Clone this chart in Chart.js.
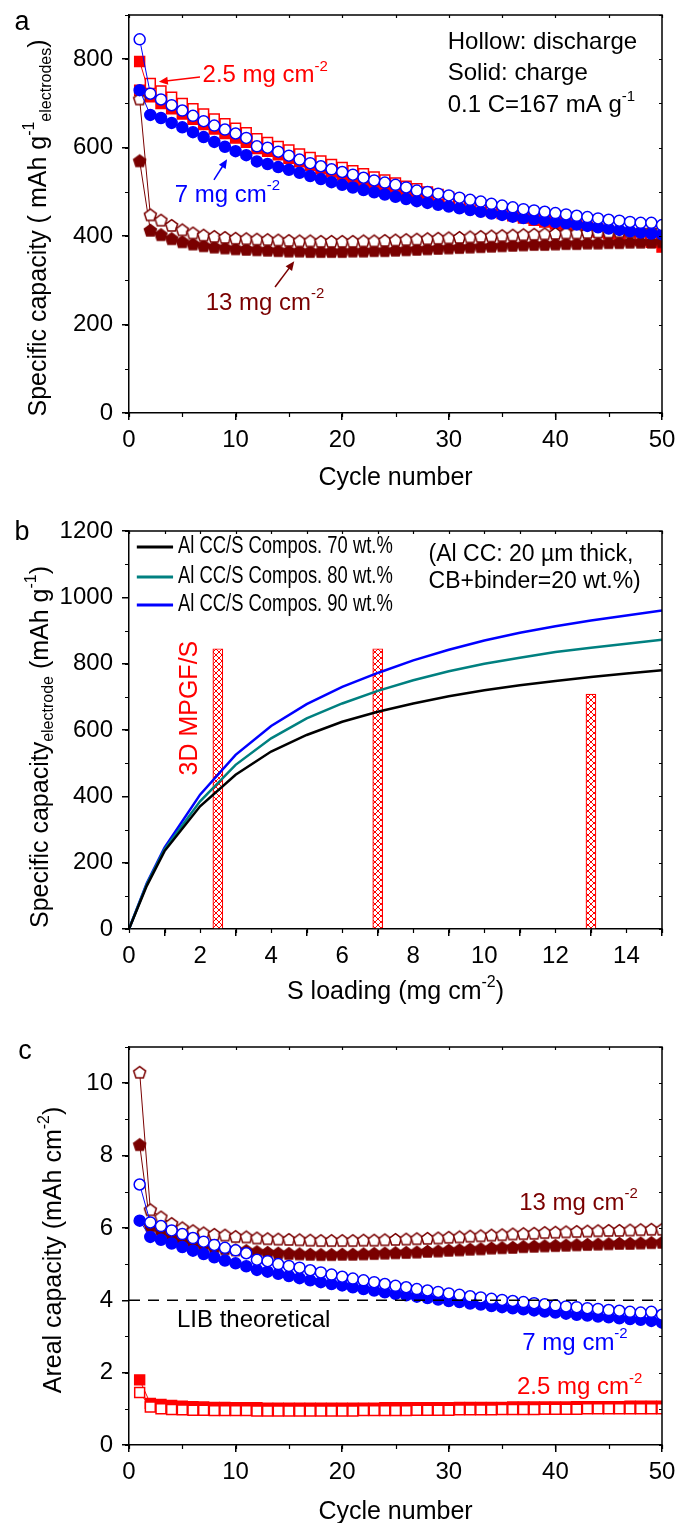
<!DOCTYPE html>
<html>
<head>
<meta charset="utf-8">
<script src="https://cdn.jsdelivr.net/npm/chart.js@4.4.1/dist/chart.umd.min.js"></script>
<style>
  body { margin: 0; background: #fff; }
  #wrap { position: relative; width: 676px; height: 1523px; }
  canvas { position: absolute; left: 0; }
</style>
</head>
<body>
<div id="wrap">
  <canvas id="chartA" width="676" height="505" style="top:0"></canvas>
  <canvas id="chartB" width="676" height="510" style="top:505px"></canvas>
  <canvas id="chartC" width="676" height="508" style="top:1015px"></canvas>
</div>
<script>
// ---- data ----
const cycles = [1,2,3,4,5,6,7,8,9,10,11,12,13,14,15,16,17,18,19,20,21,22,23,24,25,
  26,27,28,29,30,31,32,33,34,35,36,37,38,39,40,41,42,43,44,45,46,47,48,49,50];

// panel a: specific capacity (mAh g-1 electrodes)
const blueDisA = [845,722,709,696,684,672,660,650,641,632,622,603,600,591,582,573,565,558,551,545,
  539,532,526,521,516,510,503,500,496,492,487,482,478,473,469,465,461,458,455,452,
  449,446,443,440,437,435,432,430,430,425];
const blueChA = [730,674,667,656,646,635,624,613,602,592,583,569,563,556,550,543,536,529,522,516,
  510,504,499,494,489,484,479,475,471,467,463,459,455,451,448,444,441,438,435,432,
  429,426,423,420,417,414,411,408,406,404];
const redDisA = [730,745,728,714,700,688,676,665,654,644,634,620,612,603,595,586,578,570,562,555,
  548,541,534,527,520,513,507,500,494,488,482,476,470,465,460,454,449,444,439,434,
  429,425,420,416,411,407,402,398,394,388];
const redChA = [795,715,700,688,676,664,652,642,632,622,612,598,592,584,576,568,560,552,545,538,
  531,524,517,511,505,499,493,487,482,476,471,466,461,456,451,446,441,436,432,427,
  422,418,413,409,405,400,396,391,386,375];
const darkDisA = [710,448,436,424,414,407,402,399,397,395,394,393,392,391,390,389,389,388,388,388,
  388,389,389,390,391,392,393,394,395,396,397,398,399,400,401,402,403,404,405,406,
  407,407,408,409,409,410,410,411,411,412];
const darkChA = [570,413,403,394,387,382,378,375,373,371,370,369,368,367,366,366,365,365,365,365,
  366,366,367,367,368,369,370,371,372,373,374,375,376,377,378,379,380,381,381,382,
  383,383,384,384,385,385,386,386,386,387];

// panel b: model curves vs S loading
const loading = [0,0.5,1,2,3,4,5,6,7,8,9,10,11,12,13,14,15];
const cap70 = [0,130,235,370,465,535,585,625,655,680,702,720,735,748,760,770,780];
const cap80 = [0,135,240,385,495,575,635,680,718,750,777,800,818,835,848,860,872];
const cap90 = [0,138,245,405,525,612,678,730,772,810,842,870,893,913,930,945,960];
const mpgfLoading = [2.5,7,13];
const mpgfCap = [845,845,708];

// panel c: areal capacity (mAh cm-2)
const blueDisC = [7.2,6.15,6.05,5.93,5.83,5.72,5.62,5.53,5.45,5.38,5.3,5.12,5.08,5.0,4.95,4.9,4.83,4.77,4.71,4.65,
  4.6,4.55,4.5,4.45,4.4,4.36,4.31,4.27,4.23,4.19,4.15,4.11,4.08,4.04,4.01,3.98,3.95,3.92,3.89,3.86,
  3.83,3.81,3.78,3.76,3.73,3.71,3.68,3.66,3.68,3.6];
const blueChC = [6.2,5.75,5.67,5.57,5.47,5.37,5.28,5.19,5.1,5.02,4.94,4.84,4.79,4.73,4.67,4.61,4.55,4.5,4.45,4.41,
  4.36,4.31,4.27,4.22,4.18,4.14,4.1,4.06,4.02,3.98,3.95,3.91,3.88,3.84,3.81,3.78,3.75,3.72,3.69,3.66,
  3.63,3.6,3.58,3.55,3.53,3.5,3.48,3.46,3.43,3.38];
const darkDisC = [10.3,6.5,6.3,6.12,6.0,5.92,5.86,5.82,5.8,5.76,5.75,5.72,5.7,5.69,5.68,5.67,5.66,5.65,5.65,5.65,
  5.65,5.66,5.66,5.67,5.68,5.69,5.7,5.71,5.72,5.74,5.75,5.77,5.78,5.8,5.81,5.83,5.84,5.85,5.87,5.88,
  5.89,5.9,5.91,5.92,5.93,5.93,5.94,5.95,5.96,5.96];
const darkChC = [8.3,6.05,5.9,5.76,5.65,5.57,5.51,5.46,5.42,5.39,5.37,5.34,5.32,5.3,5.29,5.28,5.27,5.26,5.26,5.27,
  5.27,5.28,5.29,5.3,5.31,5.32,5.33,5.35,5.36,5.38,5.39,5.41,5.42,5.44,5.45,5.46,5.48,5.49,5.5,5.51,
  5.52,5.53,5.54,5.55,5.56,5.57,5.57,5.58,5.59,5.6];
const redDisC = [1.45,1.05,1.0,0.98,0.97,0.96,0.96,0.95,0.95,0.95,0.95,0.94,0.94,0.94,0.94,0.94,0.94,0.94,0.94,0.94,
  0.94,0.95,0.95,0.95,0.95,0.95,0.96,0.96,0.96,0.96,0.97,0.97,0.97,0.97,0.98,0.98,0.98,0.98,0.99,0.99,
  0.99,0.99,1.0,1.0,1.0,1.0,1.0,1.0,1.0,1.0];
const redChC = [1.8,1.15,1.12,1.09,1.07,1.06,1.05,1.04,1.04,1.03,1.03,1.03,1.02,1.02,1.02,1.02,1.02,1.02,1.02,1.02,
  1.02,1.02,1.02,1.03,1.03,1.03,1.03,1.03,1.03,1.03,1.04,1.04,1.04,1.04,1.04,1.05,1.05,1.05,1.05,1.05,
  1.05,1.06,1.06,1.06,1.06,1.06,1.07,1.07,1.07,1.07];
const libTheoretical = 4;

// ---- styling helpers ----
const FONT = '"Liberation Sans", Arial, Helvetica, sans-serif';
const RED = '#ff0000', BLUE = '#0000ff', DARK = '#7a0000', TEAL = '#008080';

function pentagon(color, hollow) {
  const c = document.createElement('canvas');
  c.width = 15; c.height = 15;
  const g = c.getContext('2d');
  g.beginPath();
  for (let k = 0; k < 5; k++) {
    const a = -Math.PI / 2 + k * 2 * Math.PI / 5;
    const px = 7.5 + 6.3 * Math.cos(a), py = 8 + 6.3 * Math.sin(a);
    if (k) g.lineTo(px, py); else g.moveTo(px, py);
  }
  g.closePath();
  g.fillStyle = hollow ? '#fff' : color;
  g.fill();
  g.lineWidth = 1.5;
  g.strokeStyle = color;
  g.stroke();
  return c;
}

function hatchPattern() {
  const c = document.createElement('canvas');
  c.width = 6; c.height = 6;
  const g = c.getContext('2d');
  g.fillStyle = '#fff';
  g.fillRect(0, 0, 6, 6);
  g.strokeStyle = RED;
  g.lineWidth = 1;
  g.beginPath();
  g.moveTo(0, 0); g.lineTo(6, 6);
  g.moveTo(6, 0); g.lineTo(0, 6);
  g.stroke();
  return g.createPattern(c, 'repeat');
}

function series(label, xs, ys, color, style, hollow, order) {
  const r = style === 'rect' ? 7 : 5.5;
  return {
    label: label,
    data: ys.map((v, i) => ({ x: xs[i], y: v })),
    borderColor: color,
    borderWidth: 1,
    pointStyle: style,
    pointRadius: r,
    pointHoverRadius: r,
    pointBorderWidth: 1.5,
    pointBackgroundColor: hollow ? '#fff' : color,
    pointBorderColor: color,
    order: order
  };
}

// rich text: parts = [{t, sup}, {t, sub}]
function richText(ctx, parts, x, y, size, color, opts) {
  opts = opts || {};
  const small = Math.round(size * 0.62);
  ctx.save();
  ctx.translate(x, y);
  if (opts.rot) ctx.rotate(opts.rot);
  if (opts.sx) ctx.scale(opts.sx, 1);
  ctx.fillStyle = color;
  ctx.textBaseline = 'middle';
  ctx.textAlign = 'left';
  let w = 0;
  parts.forEach(p => {
    ctx.font = (p.sup || p.sub ? small : size) + 'px ' + FONT;
    p.w = ctx.measureText(p.t).width;
    w += p.w;
  });
  let cx = opts.center ? -w / 2 : 0;
  parts.forEach(p => {
    ctx.font = (p.sup || p.sub ? small : size) + 'px ' + FONT;
    const dy = p.sup ? -size * 0.36 : (p.sub ? size * 0.32 : 0);
    ctx.fillText(p.t, cx, dy);
    cx += p.w;
  });
  ctx.restore();
}

function arrow(ctx, x1, y1, x2, y2, color) {
  const ang = Math.atan2(y2 - y1, x2 - x1);
  const hl = 9, hw = 4;
  ctx.save();
  ctx.strokeStyle = color;
  ctx.fillStyle = color;
  ctx.lineWidth = 1.5;
  ctx.beginPath();
  ctx.moveTo(x1, y1);
  ctx.lineTo(x2 - Math.cos(ang) * hl * 0.8, y2 - Math.sin(ang) * hl * 0.8);
  ctx.stroke();
  ctx.beginPath();
  ctx.moveTo(x2, y2);
  ctx.lineTo(x2 - hl * Math.cos(ang) + hw * Math.sin(ang), y2 - hl * Math.sin(ang) - hw * Math.cos(ang));
  ctx.lineTo(x2 - hl * Math.cos(ang) - hw * Math.sin(ang), y2 - hl * Math.sin(ang) + hw * Math.cos(ang));
  ctx.closePath();
  ctx.fill();
  ctx.restore();
}

// frame, minor ticks, titles, annotations
const decor = {
  id: 'decor',
  afterDatasetsDraw(chart, args, o) {
    const ctx = chart.ctx;
    const a = chart.chartArea;
    const xs = chart.scales.x, ys = chart.scales.y;
    ctx.save();
    ctx.strokeStyle = '#000';
    ctx.lineWidth = 1.5;
    // top + right frame
    ctx.beginPath();
    ctx.moveTo(a.left, a.top); ctx.lineTo(a.right, a.top); ctx.lineTo(a.right, a.bottom);
    ctx.stroke();
    // minor ticks outside, small mirrored ticks inside on top/right
    ctx.lineWidth = 1.2;
    ctx.beginPath();
    for (let v = xs.min; v <= xs.max + 1e-9; v += o.minorX) {
      const px = Math.round(xs.getPixelForValue(v)) + 0.5;
      ctx.moveTo(px, a.bottom); ctx.lineTo(px, a.bottom + 4);
      ctx.moveTo(px, a.top); ctx.lineTo(px, a.top + 3);
    }
    for (let v = ys.min; v <= ys.max + 1e-9; v += o.minorY) {
      const py = Math.round(ys.getPixelForValue(v)) + 0.5;
      ctx.moveTo(a.left, py); ctx.lineTo(a.left - 4, py);
      ctx.moveTo(a.right, py); ctx.lineTo(a.right - 3, py);
    }
    ctx.stroke();
    ctx.restore();

    // panel letter
    ctx.save();
    ctx.font = '27px ' + FONT;
    ctx.fillStyle = '#000';
    ctx.textBaseline = 'middle';
    ctx.textAlign = 'center';
    ctx.fillText(o.letter[0], o.letter[1], o.letter[2]);
    ctx.restore();

    // axis titles
    richText(ctx, o.xTitle, (a.left + a.right) / 2, o.xTitleY, 25, '#000', { center: true });
    richText(ctx, o.yTitle, o.yTitlePos[0], o.yTitlePos[1], 25, '#000', { center: true, rot: -Math.PI / 2 });

    // dashed reference line
    if (o.hline !== undefined) {
      const py = ys.getPixelForValue(o.hline);
      ctx.save();
      ctx.strokeStyle = '#000';
      ctx.lineWidth = 1.5;
      ctx.setLineDash([11, 8]);
      ctx.beginPath();
      ctx.moveTo(a.left, py); ctx.lineTo(a.right, py);
      ctx.stroke();
      ctx.restore();
    }

    (o.texts || []).forEach(t => {
      richText(ctx, t.parts, xs.getPixelForValue(t.x), ys.getPixelForValue(t.y), t.size || 24, t.color,
        { rot: t.rot, center: t.center, sx: t.sx });
    });
    (o.arrows || []).forEach(r => {
      arrow(ctx, xs.getPixelForValue(r.from[0]), ys.getPixelForValue(r.from[1]),
        xs.getPixelForValue(r.to[0]), ys.getPixelForValue(r.to[1]), r.color);
    });

    // hand-drawn legend (panel b)
    if (o.legend) {
      const L = o.legend;
      chart.data.datasets.filter(d => d.type !== 'bar').forEach((d, i) => {
        const py = ys.getPixelForValue(L.y[i]);
        ctx.save();
        ctx.strokeStyle = d.borderColor;
        ctx.lineWidth = 3;
        ctx.beginPath();
        ctx.moveTo(xs.getPixelForValue(L.x0), py);
        ctx.lineTo(xs.getPixelForValue(L.x1), py);
        ctx.stroke();
        ctx.restore();
        richText(ctx, [{ t: d.label }], xs.getPixelForValue(L.tx), py, 23, '#000', { sx: 0.8 });
      });
    }
  }
};
Chart.register(decor);

function axisOpts(min, max, major, fit, isX) {
  return {
    type: 'linear',
    min: min, max: max,
    ticks: {
      stepSize: major,
      color: '#000',
      font: { family: FONT, size: 24 },
      padding: isX ? 6 : 9,
      maxRotation: 0,
      autoSkip: false,
      callback: v => String(v)
    },
    grid: { drawOnChartArea: false, drawTicks: true, tickLength: 7, color: '#000', lineWidth: 1.5 },
    border: { display: true, color: '#000', width: 1.5 },
    title: { display: false },
    afterBuildTicks: s => {
      const t = [];
      for (let v = min; v <= max + 1e-9; v += major) t.push({ value: v });
      s.ticks = t;
    },
    afterFit: s => {
      if (isX) s.height = fit; else s.width = fit;
      s.paddingTop = 0; s.paddingBottom = 0; s.paddingLeft = 0; s.paddingRight = 0;
    }
  };
}

function baseOptions(top, xFit, xr, yr, decorOpts) {
  return {
    responsive: false,
    animation: false,
    devicePixelRatio: 1,
    layout: { padding: { top: top, right: 14, left: 0, bottom: 0 } },
    scales: {
      x: axisOpts(xr[0], xr[1], xr[2], xFit, true),
      y: axisOpts(yr[0], yr[1], yr[2], 129, false)
    },
    plugins: { legend: { display: false }, tooltip: { enabled: false }, decor: decorOpts }
  };
}

const sup = t => ({ t: t, sup: true });
const sub = t => ({ t: t, sub: true });
const txt = t => ({ t: t });

// ---- panel a ----
new Chart(document.getElementById('chartA'), {
  type: 'line',
  data: {
    datasets: [
      series('7 mg discharge', cycles, blueDisA, BLUE, 'circle', true, 1),
      series('7 mg charge', cycles, blueChA, BLUE, 'circle', false, 2),
      series('13 mg discharge', cycles, darkDisA, DARK, pentagon(DARK, true), true, 3),
      series('13 mg charge', cycles, darkChA, DARK, pentagon(DARK, false), false, 4),
      series('2.5 mg discharge', cycles, redDisA, RED, 'rect', true, 5),
      series('2.5 mg charge', cycles, redChA, RED, 'rect', false, 6)
    ]
  },
  options: baseOptions(15, 92, [0, 50, 10], [0, 900, 200], {
    minorX: 5, minorY: 100,
    letter: ['a', 22, 23],
    xTitle: [txt('Cycle number')], xTitleY: 478,
    yTitle: [txt('Specific capacity ( mAh g'), sup('-1'), sub('electrodes'), txt(')')],
    yTitlePos: [39, 228],
    texts: [
      { parts: [txt('Hollow: discharge')], x: 29.9, y: 839, color: '#000' },
      { parts: [txt('Solid: charge')], x: 29.9, y: 769, color: '#000' },
      { parts: [txt('0.1 C=167 mA g'), sup('-1')], x: 29.9, y: 695, color: '#000' },
      { parts: [txt('2.5 mg cm'), sup('-2')], x: 6.9, y: 764, color: RED },
      { parts: [txt('7 mg cm'), sup('-2')], x: 4.3, y: 493, color: BLUE },
      { parts: [txt('13 mg cm'), sup('-2')], x: 7.2, y: 249, color: DARK }
    ],
    arrows: [
      { from: [6.66, 760], to: [2.8, 749], color: RED },
      { from: [7.97, 527], to: [9.2, 574], color: BLUE },
      { from: [13.7, 285], to: [15.5, 343], color: DARK }
    ]
  })
});

// ---- panel b ----
const optsB = baseOptions(26, 86, [0, 15, 2], [0, 1200, 200], {
  minorX: 1, minorY: 100,
  letter: ['b', 22, 28],
  xTitle: [txt('S loading (mg cm'), sup('-2'), txt(')')], xTitleY: 487,
  yTitle: [txt('Specific capacity'), sub('electrode'), txt(' (mAh g'), sup('-1'), txt(')')],
  yTitlePos: [41, 242],
  texts: [
    { parts: [txt('(Al CC: 20 \u00b5m thick,')], x: 8.43, y: 1128, color: '#000', size: 23 },
    { parts: [txt('CB+binder=20 wt.%)')], x: 8.43, y: 1046, color: '#000', size: 23 },
    { parts: [txt('3D MPGF/S')], x: 1.71, y: 666, color: RED, size: 25, rot: -Math.PI / 2, center: true }
  ],
  legend: { x0: 0.22, x1: 1.24, tx: 1.38, y: [1152, 1061, 977] }
});
optsB.scales.x.offset = false;

new Chart(document.getElementById('chartB'), {
  type: 'line',
  data: {
    datasets: [
      { label: 'Al CC/S Compos. 70 wt.%', data: cap70.map((v, i) => ({ x: loading[i], y: v })),
        borderColor: '#000', borderWidth: 2.5, pointRadius: 0, tension: 0, order: 1 },
      { label: 'Al CC/S Compos. 80 wt.%', data: cap80.map((v, i) => ({ x: loading[i], y: v })),
        borderColor: TEAL, borderWidth: 2.5, pointRadius: 0, tension: 0, order: 1 },
      { label: 'Al CC/S Compos. 90 wt.%', data: cap90.map((v, i) => ({ x: loading[i], y: v })),
        borderColor: BLUE, borderWidth: 2.5, pointRadius: 0, tension: 0, order: 1 },
      { type: 'bar', label: '3D MPGF/S', data: mpgfCap.map((v, i) => ({ x: mpgfLoading[i], y: v })),
        backgroundColor: hatchPattern(), borderColor: RED, borderWidth: 1.2, barThickness: 10, order: 2 }
    ]
  },
  options: optsB
});

// ---- panel c ----
new Chart(document.getElementById('chartC'), {
  type: 'line',
  data: {
    datasets: [
      series('7 mg discharge', cycles, blueDisC, BLUE, 'circle', true, 1),
      series('7 mg charge', cycles, blueChC, BLUE, 'circle', false, 2),
      series('13 mg discharge', cycles, darkDisC, DARK, pentagon(DARK, true), true, 3),
      series('13 mg charge', cycles, darkChC, DARK, pentagon(DARK, false), false, 4),
      series('2.5 mg discharge', cycles, redDisC, RED, 'rect', true, 5),
      series('2.5 mg charge', cycles, redChC, RED, 'rect', false, 6)
    ]
  },
  options: baseOptions(32, 78, [0, 50, 10], [0, 11, 2], {
    minorX: 5, minorY: 1,
    letter: ['c', 25, 37],
    xTitle: [txt('Cycle number')], xTitleY: 497,
    yTitle: [txt('Areal capacity (mAh cm'), sup('-2'), txt(')')],
    yTitlePos: [54, 235],
    hline: libTheoretical,
    texts: [
      { parts: [txt('LIB theoretical')], x: 4.5, y: 3.45, color: '#000' },
      { parts: [txt('13 mg cm'), sup('-2')], x: 36.6, y: 6.69, color: DARK },
      { parts: [txt('7 mg cm'), sup('-2')], x: 36.9, y: 2.82, color: BLUE },
      { parts: [txt('2.5 mg cm'), sup('-2')], x: 36.4, y: 1.6, color: RED }
    ]
  })
});
</script>
</body>
</html>
